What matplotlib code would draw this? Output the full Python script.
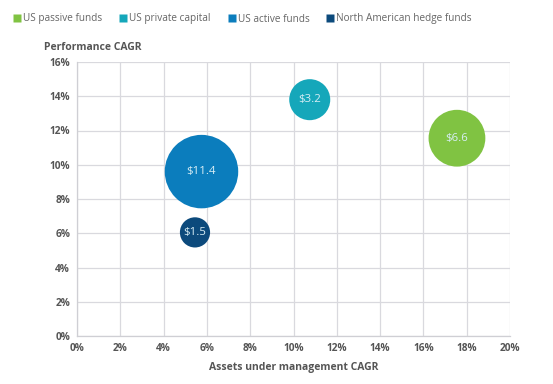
import matplotlib
matplotlib.use("Agg")
import matplotlib.pyplot as plt
from matplotlib.lines import Line2D
from matplotlib.ticker import FuncFormatter, MultipleLocator

categories = ["US passive funds", "US private capital", "US active funds", "North American hedge funds"]
aum_cagr = [17.55, 10.75, 5.75, 5.45]
perf_cagr = [11.55, 13.8, 9.6, 6.05]
assets = [6.6, 3.2, 11.4, 1.5]
colors = ["#80c342", "#15a7ba", "#0b7dbd", "#0c4a7c"]

plt.rcParams['font.family'] = ['Open Sans', 'DejaVu Sans']

fig = plt.figure(figsize=(5.53, 3.84), dpi=100)
ax = fig.add_axes([77/553, 1-336/384, (510-77)/553, (336-62)/384])

sizes = [120 + 235 * a for a in assets]
ax.scatter(aum_cagr, perf_cagr, s=sizes, c=colors, edgecolors='none', zorder=3)
for x, y, a in zip(aum_cagr, perf_cagr, assets):
    ax.text(x, y, f"${a}", ha='center', va='center', color='#d8eef5', fontsize=8.2, zorder=4)

ax.set_xlim(0, 20)
ax.set_ylim(0, 16)
ax.xaxis.set_major_locator(MultipleLocator(2))
ax.yaxis.set_major_locator(MultipleLocator(2))
fmt = FuncFormatter(lambda v, p: f"{v:.0f}%")
ax.xaxis.set_major_formatter(fmt)
ax.yaxis.set_major_formatter(fmt)
ax.grid(True, color='#d9d9de', linewidth=0.9, zorder=0)
ax.set_axisbelow(True)
for s in ['top', 'right']:
    ax.spines[s].set_visible(False)
for s in ['left', 'bottom']:
    ax.spines[s].set_color('#cfcfd4')
    ax.spines[s].set_linewidth(0.9)
ax.tick_params(length=0, labelsize=7.3, labelcolor='#555555', pad=5)
for lbl in ax.get_xticklabels() + ax.get_yticklabels():
    lbl.set_fontweight('bold')

ax.set_xlabel("Assets under management CAGR", fontsize=7.5, fontweight='bold', color='#555555', labelpad=6)
fig.text(44/553, 1-47/384, "Performance CAGR", fontsize=7.5, fontweight='bold', color='#555555', ha='left', va='center')

handles = [Line2D([0], [0], marker='s', linestyle='none', markersize=5.5, markerfacecolor=c, markeredgecolor='none') for c in colors]
fig.legend(handles, categories, loc='center left', bbox_to_anchor=(10/553, 1-19/384), ncol=4, frameon=False,
           fontsize=7.2, labelcolor='#666666', handlelength=0.6, handletextpad=0.3, columnspacing=1.8, borderaxespad=0)

fig.savefig("out.png", dpi=100)
